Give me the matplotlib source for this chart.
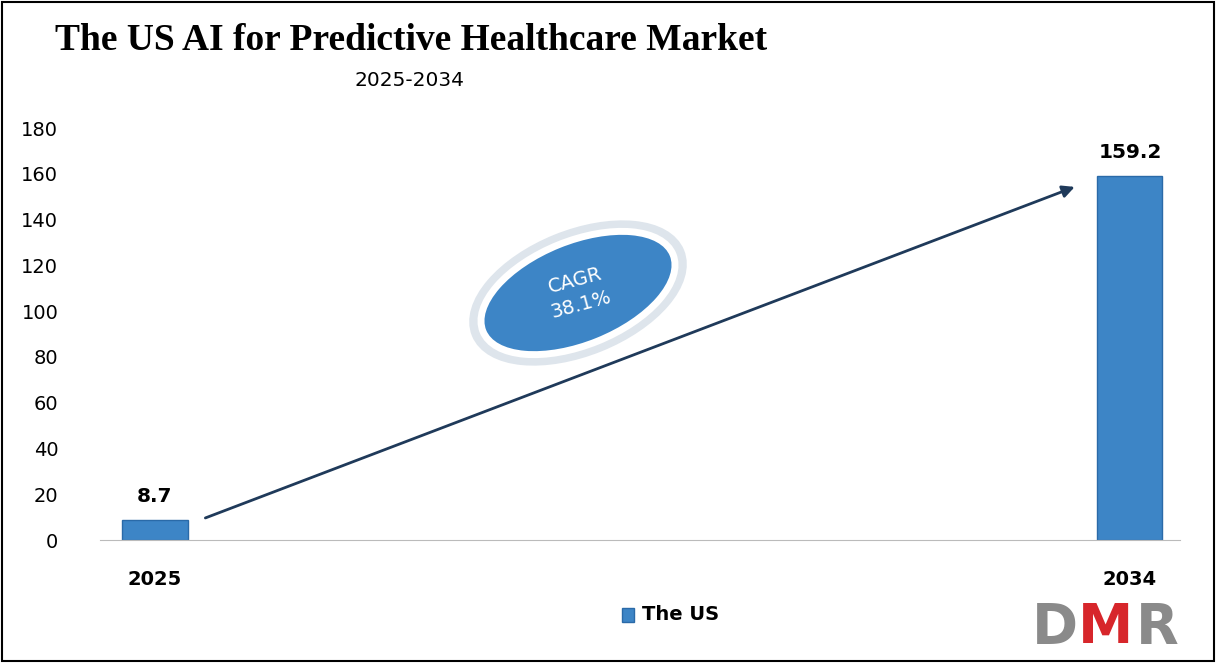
import matplotlib
matplotlib.use("Agg")
import matplotlib.pyplot as plt
from matplotlib.patches import Ellipse, Rectangle
from matplotlib.transforms import IdentityTransform

categories = ["2025", "2034"]
values = [8.7, 159.2]
yticks = [0, 20, 40, 60, 80, 100, 120, 140, 160, 180]

fig = plt.figure(figsize=(12.16, 6.63), dpi=100)
fig.patch.set_facecolor("white")
ax = fig.add_axes([100/1216, 1-540/663, 1080/1216, (540-128)/663])
x = [0, 1]
ax.bar(x, values, width=0.0667, color="#3d85c6", edgecolor="#2a6aa8", linewidth=1)
ax.set_xlim(-0.0564, 1.0513)
ax.set_ylim(0, 180)
ax.set_yticks(yticks)
ax.tick_params(axis="y", length=0, labelsize=14, pad=30)
ax.tick_params(axis="x", length=0)
ax.set_xticks(x)
ax.set_xticklabels(categories, fontsize=14, fontweight="bold")
for lbl in ax.get_xticklabels():
    lbl.set_y(-0.06)
for s in ["top", "right", "left"]:
    ax.spines[s].set_visible(False)
ax.spines["bottom"].set_color("#bbbbbb")
for xi, v in zip(x, values):
    ax.text(xi, v + 6, f"{v}", ha="center", va="bottom", fontsize=14.5, fontweight="bold")

ax.annotate("", xy=(0.946, 154.7), xytext=(0.049, 9.2),
            arrowprops=dict(arrowstyle="-|>", color="#1f3a5a", lw=2, mutation_scale=18))

ell_shadow = Ellipse((578, 663-293), 215, 112, angle=22, transform=IdentityTransform(),
                     facecolor="none", edgecolor="#c8d4e0", lw=10, alpha=0.6)
ell = Ellipse((578, 663-293), 205, 104, angle=22, transform=IdentityTransform(),
              facecolor="#3d85c6", edgecolor="white", lw=5)
fig.patches.extend([ell_shadow, ell])
fig.text(578/1216, 1-293/663, "CAGR\n38.1%", ha="center", va="center", color="white",
         fontsize=14, rotation=15, linespacing=1.4)

fig.text(55/1216, 1-40/663, "The US AI for Predictive Healthcare Market", family="Liberation Serif",
         fontweight="bold", fontsize=27, ha="left", va="center")
fig.text(410/1216, 1-80/663, "2025-2034", fontsize=14.5, ha="center", va="center")

fig.patches.append(Rectangle((622/1216, 1-622/663), 12/1216, 14/663, transform=fig.transFigure,
                             facecolor="#3d85c6", edgecolor="#2a6aa8"))
fig.text(642/1216, 1-615/663, "The US", fontsize=14, fontweight="bold", ha="left", va="center")

fig.text(1032/1216, 1-628/663, "D", fontsize=40, fontweight="bold", color="#8a8a8a", ha="left", va="center")
fig.text(1078/1216, 1-628/663, "M", fontsize=40, fontweight="bold", color="#d7262b", ha="left", va="center")
fig.text(1136/1216, 1-628/663, "R", fontsize=40, fontweight="bold", color="#8a8a8a", ha="left", va="center")

fig.patches.append(Rectangle((0.002, 0.003), 0.996, 0.994, transform=fig.transFigure,
                             facecolor="none", edgecolor="black", lw=1.5))
fig.savefig("out.png", dpi=100)
